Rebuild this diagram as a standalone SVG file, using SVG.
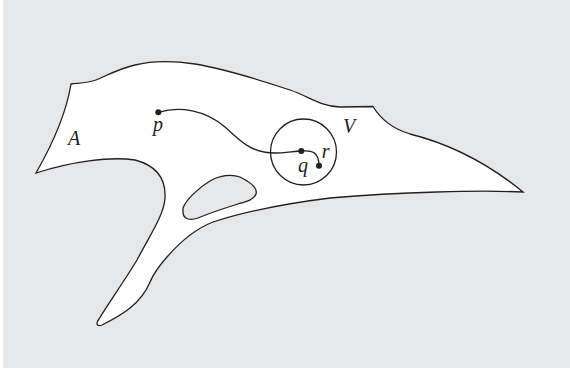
<svg xmlns="http://www.w3.org/2000/svg" width="570" height="368" viewBox="0 0 570 368">
<style>
.ln{fill:none;stroke:#231f20;stroke-width:1.3}
.lab{font-family:"Liberation Serif",serif;font-style:italic;font-size:20px;fill:#231f20}
.dot{fill:#231f20}
</style>
<rect x="0" y="0" width="570" height="368" fill="#ffffff"/>
<rect x="3" y="0" width="567" height="368" fill="#e6e7e8"/>
<g id="regionA">
<path class="ln" fill="#ffffff" style="fill:#ffffff" d="M71,84 C80,83 88,83 96,80 C106,76 118,69 135,65 C155,60 175,61 195,64 C225,69 260,80 290,90 C310,97 320,106 340,107 L373,106.5 C380,118 390,128 410,134 C450,144 490,165 523,192 C480,190 400,192 330,198 C290,203 250,210 213,222 C195,229 180,242 167,257 C158,267 153,275 150,282 C146,292 140,300 130,308 C120,316 108,322 102,325 C96,327 96,323 99,319 C108,304 125,280 137,260 C150,235 164,215 165,198 C166,180 158,166 135,160 C110,156 70,162 36,173 C52,145 66,115 71,84 Z"/>
</g>
<g id="hole">
<path class="ln" style="fill:#e6e7e8" d="M183,208 C186,200 198,188 210,181 C220,175 232,174 240,177 C250,182 258,188 256,194 C254,200 245,202 238,204 C225,208 210,213 198,218 C190,221 183,219 183,212 Z"/>
</g>
<g id="V">
<circle class="ln" cx="303.5" cy="152" r="33"/>
<text class="lab" x="343" y="133.3">V</text>
</g>
<g id="connectors">
<path class="ln" d="M158.3,112.3 C180,106 205,110 225,127 C240,140 250,153 275,153 C285,153 295,151 301.3,151"/>
<path class="ln" d="M301.3,151 C312,150 319,152 319,165.7"/>
</g>
<g id="p">
<circle class="dot" cx="158.3" cy="112.3" r="3"/>
<text class="lab" x="153" y="131">p</text>
</g>
<g id="q">
<circle class="dot" cx="301.3" cy="151" r="3"/>
<text class="lab" x="298" y="172">q</text>
</g>
<g id="r">
<circle class="dot" cx="319" cy="165.7" r="3"/>
<text class="lab" x="321.7" y="158.3">r</text>
</g>
<g id="labelA">
<text class="lab" x="68" y="145">A</text>
</g>
</svg>
